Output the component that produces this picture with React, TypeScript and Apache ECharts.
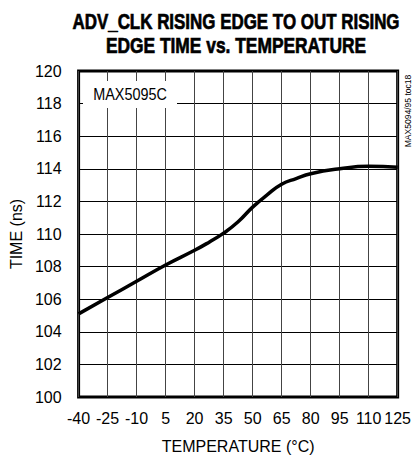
import React, { useEffect, useRef } from "react";
import * as echarts from "echarts";

const TITLE_LINES = ["ADV_CLK RISING EDGE TO OUT RISING", "EDGE TIME vs. TEMPERATURE"];
const X_MIN = -40;
const X_MAX = 125;
const X_STEP = 15;
const Y_MIN = 100;
const Y_MAX = 120;
const Y_STEP = 2;
const temperatures = [-40, -25, -10, 5, 20, 27.5, 35, 42.5, 50, 57.5, 65, 72.5, 80, 95, 110, 125];
const timeNs = [105.1, 106.1, 107.1, 108.1, 109.0, 109.5, 110.05, 110.75, 111.65, 112.4, 113.05, 113.4, 113.7, 114.0, 114.15, 114.1];
const DEVICE_LABEL = "MAX5095C";
const SIDE_NOTE = "MAX5094/95 toc18";

const FONT = '"Liberation Sans", Arial, sans-serif';

export default function App() {
  const ref = useRef<HTMLDivElement>(null);
  useEffect(() => {
    if (!ref.current) return;
    const chart = echarts.init(ref.current, null, { renderer: "svg" });
    const gridLeft = 72;
    const gridTop = 71;
    const gridW = 329;
    const gridH = 329;
    chart.setOption({
      animation: false,
      backgroundColor: "#fff",
      grid: {
        left: gridLeft,
        top: gridTop,
        width: gridW,
        height: gridH,
        show: true,
        borderColor: "#000",
        borderWidth: 3,
        backgroundColor: "transparent",
      },
      xAxis: {
        type: "value",
        min: 0,
        max: X_MAX - X_MIN,
        interval: X_STEP,
        name: "TEMPERATURE (°C)",
        nameLocation: "middle",
        nameGap: 41,
        nameTextStyle: { fontFamily: FONT, fontSize: 16, color: "#000" },
        axisLine: { show: false },
        axisTick: { show: false },
        axisLabel: {
          margin: 13,
          fontFamily: FONT,
          fontSize: 16,
          color: "#000",
          formatter: (v: number) => String(v + X_MIN),
        },
        splitLine: { show: true, lineStyle: { color: "#444", width: 1 } },
      },
      yAxis: {
        type: "value",
        min: Y_MIN,
        max: Y_MAX,
        interval: Y_STEP,
        name: "TIME (ns)",
        nameLocation: "middle",
        nameGap: 47,
        nameTextStyle: { fontFamily: FONT, fontSize: 16, color: "#000" },
        axisLine: { show: false },
        axisTick: { show: false },
        axisLabel: {
          margin: 17,
          fontFamily: FONT,
          fontSize: 16,
          color: "#000",
        },
        splitLine: { show: true, lineStyle: { color: "#000", width: 1 } },
      },
      series: [
        {
          type: "line",
          data: temperatures.map((t, i) => [t - X_MIN, timeNs[i]]),
          smooth: 0.5,
          showSymbol: false,
          lineStyle: { color: "#000", width: 3.5 },
          z: 5,
        },
      ],
      graphic: [
        {
          type: "text",
          z: 101,
          x: 236,
          y: 21,
          scaleX: 0.77,
          style: {
            text: TITLE_LINES[0],
            font: `bold 22px ${FONT}`,
            fill: "#000",
            stroke: "#000",
            lineWidth: 0.7,
            align: "center",
            verticalAlign: "middle",
          },
        },
        {
          type: "text",
          z: 101,
          x: 236,
          y: 45.5,
          scaleX: 0.79,
          style: {
            text: TITLE_LINES[1],
            font: `bold 22px ${FONT}`,
            fill: "#000",
            stroke: "#000",
            lineWidth: 0.7,
            align: "center",
            verticalAlign: "middle",
          },
        },
        {
          type: "rect",
          z: 100,
          shape: { x: 83, y: 81, width: 94, height: 27 },
          style: { fill: "#fff" },
        },
        {
          type: "text",
          z: 101,
          x: 130,
          y: 94.5,
          scaleX: 0.9,
          style: {
            text: DEVICE_LABEL,
            font: `16px ${FONT}`,
            fill: "#000",
            align: "center",
            verticalAlign: "middle",
          },
        },
        {
          type: "text",
          z: 101,
          x: 407.5,
          y: 111,
          rotation: Math.PI / 2,
          scaleX: 0.95,
          style: {
            text: SIDE_NOTE,
            font: `9px ${FONT}`,
            fill: "#000",
            align: "center",
            verticalAlign: "middle",
          },
        },
      ],
    });
    return () => chart.dispose();
  }, []);
  return <div ref={ref} style={{ width: 414, height: 459, position: "absolute", left: 0, top: 0 }} />;
}
